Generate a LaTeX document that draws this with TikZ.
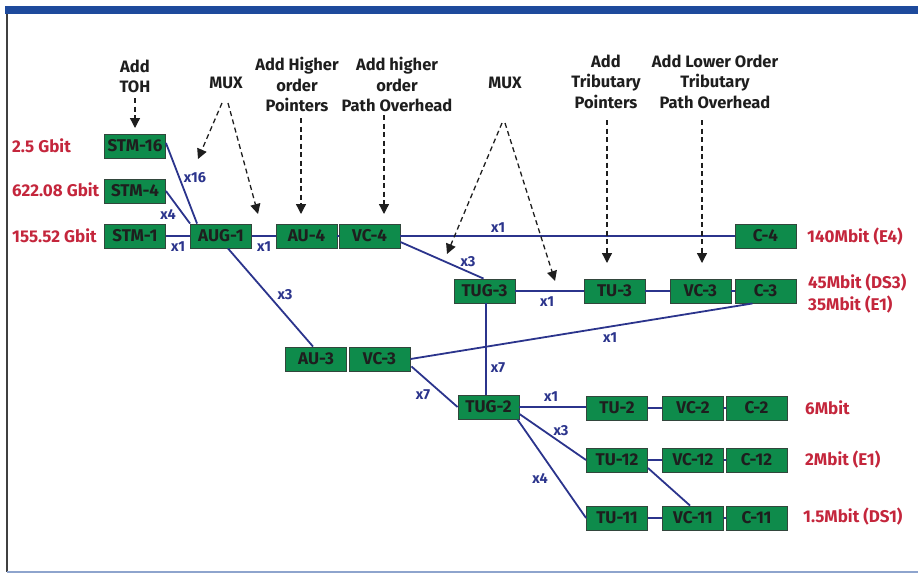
\documentclass[tikz,border=0pt]{standalone}
\usepackage{fontspec}
\setmainfont{Fira Sans}
\usetikzlibrary{arrows.meta,calc}
\definecolor{boxgreen}{RGB}{14,139,75}
\definecolor{boxedge}{RGB}{50,70,60}
\definecolor{linkblue}{RGB}{43,52,140}
\definecolor{ratered}{RGB}{196,38,60}
\definecolor{barblue}{RGB}{30,74,156}
\definecolor{txt}{RGB}{30,30,30}
\tikzset{
  unit/.style={draw=boxedge, line width=0.9pt, fill=boxgreen, minimum width=61pt, minimum height=24pt, inner sep=0pt, text=txt, font=\fontsize{17}{17}\selectfont\bfseries},
  link/.style={draw=linkblue, line width=1.8pt},
  mult/.style={text=linkblue, font=\fontsize{14.5}{14.5}\selectfont\bfseries, inner sep=1pt},
  rate/.style={text=ratered, font=\fontsize{17}{17}\selectfont\bfseries, anchor=west, inner sep=0pt},
  note/.style={text=txt, font=\fontsize{16.5}{20.5}\selectfont\bfseries, align=center, inner sep=0pt},
  hint/.style={draw=txt, line width=1.3pt, dash pattern=on 5pt off 3.5pt, -{Triangle[length=10pt,width=10pt]}}
}
\begin{document}
\begin{tikzpicture}[x=1pt,y=-1pt]
\useasboundingbox (0,0) rectangle (918,574);
% frame
\fill[barblue] (5,6) rectangle (918,14);
\draw[color=black!75, line width=1.5pt] (7,14) -- (7,572);
\draw[color=barblue!50, line width=1.5pt] (7,572) -- (918,572);

% boxes
\node[unit] (STM16) at (135,146) {STM-16};
\node[unit] (STM4) at (135,191) {STM-4};
\node[unit] (STM1) at (135,236) {STM-1};
\node[unit] (AUG1) at (221,236) {AUG-1};
\node[unit] (AU4) at (306.5,236) {AU-4};
\node[unit] (VC4) at (369.5,236) {VC-4};
\node[unit] (C4) at (765.5,236) {C-4};
\node[unit] (TUG3) at (484.5,291) {TUG-3};
\node[unit] (TU3) at (614.5,291) {TU-3};
\node[unit] (VC3r) at (700.5,291) {VC-3};
\node[unit] (C3) at (765.5,291) {C-3};
\node[unit] (AU3) at (316,359) {AU-3};
\node[unit] (VC3l) at (379.5,359) {VC-3};
\node[unit] (TUG2) at (488.5,407) {TUG-2};
\node[unit] (TU2) at (617,408) {TU-2};
\node[unit] (VC2) at (693,408) {VC-2};
\node[unit] (C2) at (756.5,408) {C-2};
\node[unit] (TU12) at (617,460) {TU-12};
\node[unit] (VC12) at (693,460) {VC-12};
\node[unit] (C12) at (756.5,460) {C-12};
\node[unit] (TU11) at (617,518) {TU-11};
\node[unit] (VC11) at (693,518) {VC-11};
\node[unit] (C11) at (756.5,518) {C-11};

% connectors
\coordinate (t3b) at ($(TUG3.south)+(1.5,0)$);
\coordinate (t2t) at (t3b |- TUG2.north);
\draw[link] ($(STM16.east)+(0,-3)$) -- ($(AUG1.north west)+(7,0)$);
\draw[link] (STM4.east) -- (AUG1.north west);
\draw[link] (STM1.east) -- (AUG1.west);
\draw[link] (AUG1.east) -- (AU4.west);
\draw[link] (AU4.east) -- (VC4.west);
\draw[link] (VC4.east) -- (VC4.east -| C4.west);
\draw[link] ($(VC4.east)+(0,6)$) -- ($(TUG3.north)+(-1,0)$);
\draw[link] ($(AUG1.south)+(7,0)$) -- ($(AU3.north)+(-3,0)$);
\draw[link] (TUG3.east) -- (TU3.west);
\draw[link] (TU3.east) -- (VC3r.west);
\draw[link] (VC3r.east) -- (C3.west);
\draw[link] (t3b) -- (t2t);
\draw[link] (VC3l.east) -- ($(C3.south)+(-13,0)$);
\draw[link] ($(VC3l.south east)+(1,-5)$) -- (TUG2.west);
\draw[link] (TUG2.east) -- (TUG2.east -| TU2.west);
\draw[link] (TU2.east) -- (VC2.west);
\draw[link] (VC2.east) -- (C2.west);
\draw[link] ($(TUG2.east)+(0,7)$) -- (TU12.west);
\draw[link] ($(TUG2.south east)+(-2,0)$) -- (TU11.west);
\draw[link] (TU12.east) -- (VC12.west);
\draw[link] (VC12.east) -- (C12.west);
\draw[link] ($(TU12.east)+(0,8)$) -- ($(VC11.north)+(-3,0)$);
\draw[link] (TU11.east) -- (VC11.west);
\draw[link] (VC11.east) -- (C11.west);

% multiplicities
\node[mult] (m1) at (195,178) {x16};
\node[mult] (m2) at (168,214) {x4};
\node[mult] (m3) at (178,247) {x1};
\node[mult] (m4) at (264,247) {x1};
\node[mult] (m5) at (498,228) {x1};
\node[mult] (m6) at (468,262) {x3};
\node[mult] (m7) at (285,295) {x3};
\node[mult] (m8) at (547,302) {x1};
\node[mult] (m9) at (498,368) {x7};
\node[mult] (m10) at (610,338) {x1};
\node[mult] (m11) at (423,395) {x7};
\node[mult] (m12) at (551,397) {x1};
\node[mult] (m13) at (561,431) {x3};
\node[mult] (m14) at (540,478) {x4};

% rates
\node[rate] (r1) at (12,146) {2.5 Gbit};
\node[rate] (r2) at (12,190) {622.08 Gbit};
\node[rate] (r3) at (12,236) {155.52 Gbit};
\node[rate] (r4) at (807,237) {140Mbit (E4)};
\node[rate] (r5) at (808,283) {45Mbit (DS3)};
\node[rate] (r6) at (808,305) {35Mbit (E1)};
\node[rate] (r7) at (805,408) {6Mbit};
\node[rate] (r8) at (805,460) {2Mbit (E1)};
\node[rate] (r9) at (803,517) {1.5Mbit (DS1)};

% notes
\node[note] (n1) at (135,76.5) {Add\\TOH};
\node[note] (n2) at (226,83) {MUX};
\node[note] (n3) at (297,84.5) {Add Higher\\order\\Pointers};
\node[note] (n4) at (397,84.5) {Add higher\\order\\Path Overhead};
\node[note] (n5) at (505,83) {MUX};
\node[note] (n6) at (606,81.5) {Add\\Tributary\\Pointers};
\node[note] (n7) at (715,81.5) {Add Lower Order\\Tributary\\Path Overhead};

% dashed arrows
\coordinate (a1s) at (135,98);
\coordinate (a1e) at (135,128);
\coordinate (a2s) at (222,103);
\coordinate (a2e) at (198,159);
\coordinate (a3s) at (228,103);
\coordinate (a3e) at (258,214);
\coordinate (a4s) at (301,118);
\coordinate (a4e) at (301,214);
\coordinate (a5s) at (384,115);
\coordinate (a5e) at (384,214);
\coordinate (a6s) at (502,123);
\coordinate (a6e) at (447,254);
\coordinate (a7s) at (505,123);
\coordinate (a7e) at (555,281);
\coordinate (a8s) at (607,120);
\coordinate (a8e) at (607,263);
\coordinate (a9s) at (702,120);
\coordinate (a9e) at (702,263);
\draw[hint] (a1s) -- (a1e);
\draw[hint] (a2s) -- (a2e);
\draw[hint] (a3s) -- (a3e);
\draw[hint] (a4s) -- (a4e);
\draw[hint] (a5s) -- (a5e);
\draw[hint] (a6s) -- (a6e);
\draw[hint] (a7s) -- (a7e);
\draw[hint] (a8s) -- (a8e);
\draw[hint] (a9s) -- (a9e);
\end{tikzpicture}
\end{document}
